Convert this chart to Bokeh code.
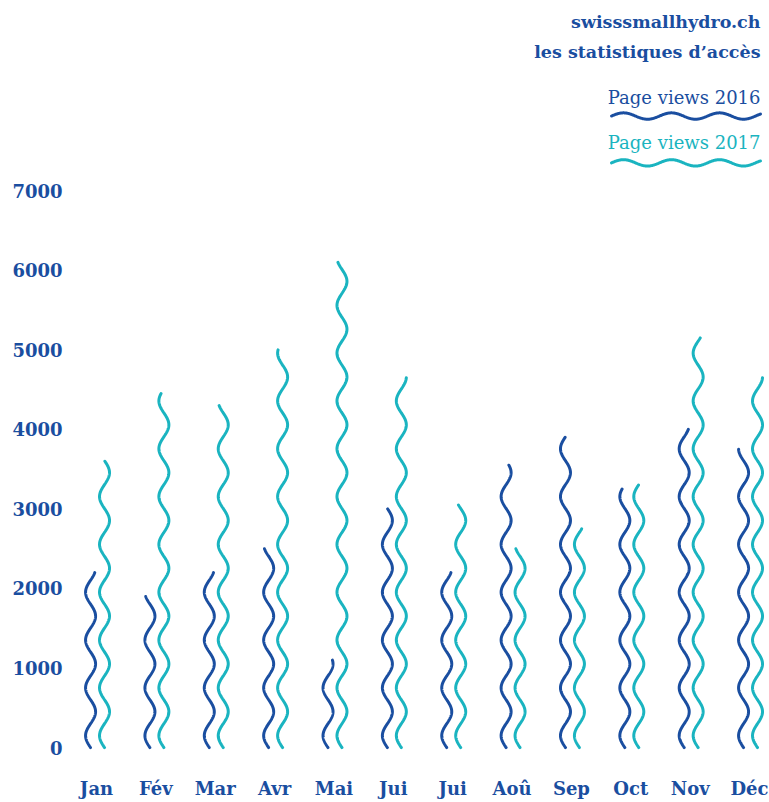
import numpy as np
from bokeh.plotting import figure
from bokeh.models import FixedTicker, Label, Range1d
from bokeh.embed import file_html
from bokeh.resources import INLINE

months = ["Jan", "Fév", "Mar", "Avr", "Mai", "Jui", "Jui", "Aoû", "Sep", "Oct", "Nov", "Déc"]
views_2016 = [2200, 1900, 2200, 2500, 1100, 3000, 2200, 3550, 3900, 3250, 4000, 3750]
views_2017 = [3600, 4450, 4300, 5000, 6100, 4650, 3050, 2500, 2750, 3300, 5150, 4650]
y_ticks = [0, 1000, 2000, 3000, 4000, 5000, 6000, 7000]

DARK = "#1a4ea0"
TEAL = "#1ab4c0"
FONT = "DejaVu Serif"

W, H = 768, 801
BL = 76
FB = 764            # frame bottom (px from top)
FW, FH = W - BL, FB
x0, x1 = -0.337, 11.32
y0, y1 = -175, 9392
px_x = FW / (x1 - x0)
px_y = FH / (y1 - y0)

def dx(fx):
    return x0 + (fx - BL) / px_x

def dy(fy):
    return y1 - fy / px_y

p = figure(width=W, height=H, output_backend="svg", toolbar_location=None,
           x_range=Range1d(x0, x1), y_range=Range1d(y0, y1),
           min_border_left=BL, min_border_right=0, min_border_top=0,
           min_border_bottom=H - FB)
p.outline_line_color = None
p.grid.grid_line_color = None
p.background_fill_color = "white"
p.border_fill_color = "white"

for ax in (p.xaxis[0], p.yaxis[0]):
    ax.axis_line_color = None
    ax.major_tick_line_color = None
    ax.minor_tick_line_color = None
    ax.major_label_text_font = FONT
    ax.major_label_text_font_style = "bold"
    ax.major_label_text_font_size = "18px"
    ax.major_label_text_color = DARK

p.xaxis.ticker = FixedTicker(ticks=list(range(len(months))))
p.xaxis.major_label_overrides = {i: m for i, m in enumerate(months)}
p.xaxis.major_label_standoff = 10
p.yaxis.ticker = FixedTicker(ticks=y_ticks)
p.yaxis.major_label_standoff = 8

amp = 5.0 / px_x
wavelength = 48.0 / px_y

def wave(xc, top):
    ys = np.linspace(0, top, 400)
    xs = xc - amp * np.sin(2 * np.pi * ys / wavelength)
    return xs, ys

for i, (a, b) in enumerate(zip(views_2016, views_2017)):
    xs, ys = wave(i - 0.10, a)
    p.line(xs, ys, line_color=DARK, line_width=3, line_cap="round")
    xs, ys = wave(i + 0.135, b)
    p.line(xs, ys, line_color=TEAL, line_width=3, line_cap="round")

# legend waves (horizontal)
def hwave(fig_y, color):
    fx = np.linspace(611, 760, 300)
    xs = dx(fx)
    ys = dy(fig_y) + (3.2 / px_y) * np.sin(2 * np.pi * (fx - 611) / 48.0)
    p.line(xs, ys, line_color=color, line_width=3, line_cap="round")

hwave(116, DARK)
hwave(163, TEAL)

def lab(text, fy, color, size, style):
    p.add_layout(Label(x=dx(760), y=dy(fy), text=text,
                       text_align="right", text_baseline="middle", text_color=color,
                       text_font=FONT, text_font_size=size, text_font_style=style))

lab("swisssmallhydro.ch", 22, DARK, "17.5px", "bold")
lab("les statistiques d\u2019accès", 52, DARK, "17.5px", "bold")
lab("Page views 2016", 97, DARK, "18px", "normal")
lab("Page views 2017", 143, TEAL, "18px", "normal")

open("out.html", "w").write(file_html(p, INLINE))
